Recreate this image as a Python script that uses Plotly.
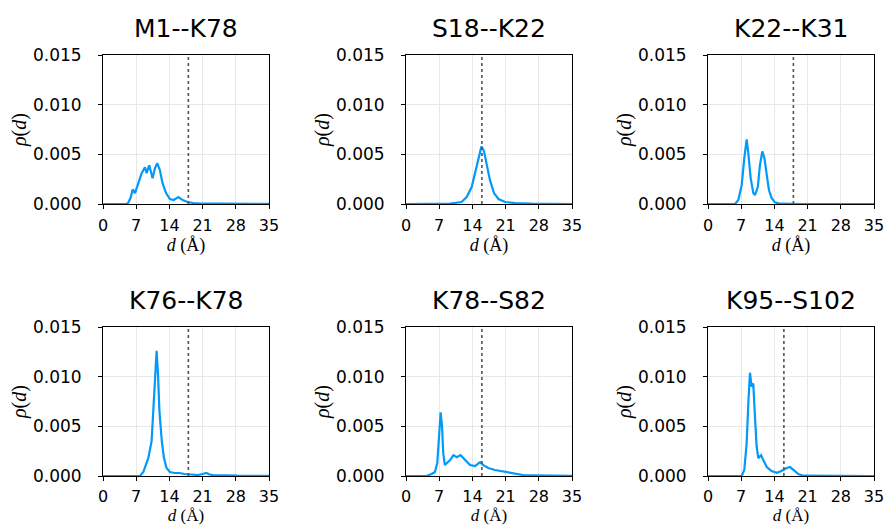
import plotly.graph_objects as go

W, H = 886, 526

titles = ["M1--K78", "S18--K22", "K22--K31", "K76--K78", "K78--S82", "K95--S102"]
cutoffs = [18, 16, 18, 18, 16, 16]

d1 = [0, 5.0, 5.3, 5.8, 6.25, 6.75, 7.45, 8.15, 8.85, 9.2, 9.75, 10.45, 10.95, 11.45, 12.0, 12.55, 13.3, 14.1, 14.9, 15.9, 16.8, 17.8, 19.0, 20.5, 25.0, 30.0, 35]
r1 = [0, 0, 0.0001, 0.0006, 0.00147, 0.0011, 0.0021, 0.0031, 0.0037, 0.0031, 0.0039, 0.0026, 0.0036, 0.0041, 0.0034, 0.0021, 0.0011, 0.0005, 0.0004, 0.0007, 0.0004, 0.0002, 0.0001, 0.00005, 0.00003, 0.00002, 0.00001]

d2 = [0, 8.0, 9.3, 11.7, 12.8, 13.85, 14.55, 15.25, 15.9, 16.45, 17.0, 17.7, 18.55, 19.5, 20.9, 23.0, 26.5, 30.0, 35]
r2 = [0, 0, 0.00005, 0.0002, 0.0007, 0.0017, 0.0031, 0.0044, 0.0058, 0.0053, 0.0041, 0.0024, 0.0011, 0.0005, 0.0002, 0.0001, 0.00003, 0.00001, 0]

d3 = [0, 5.7, 6.4, 7.1, 7.65, 8.15, 8.5, 9.0, 9.55, 9.9, 10.5, 10.95, 11.45, 11.9, 12.4, 12.85, 13.4, 14.1, 15.2, 20.0, 35]
r3 = [0, 0, 0.0004, 0.0019, 0.0046, 0.0065, 0.0051, 0.0026, 0.0011, 0.0009, 0.0017, 0.0039, 0.0053, 0.0046, 0.0029, 0.0014, 0.0006, 0.00017, 0.00003, 0, 0]

d4 = [0, 7.8, 8.5, 9.55, 10.25, 10.75, 11.1, 11.3, 11.6, 11.9, 12.4, 12.85, 13.4, 14.1, 15.1, 16.1, 17.2, 18.6, 20.0, 21.0, 21.8, 22.5, 23.2, 25.9, 28.3, 35]
r4 = [0, 0, 0.0004, 0.0018, 0.0035, 0.0075, 0.0108, 0.0126, 0.0102, 0.0065, 0.0035, 0.0018, 0.0008, 0.0004, 0.0003, 0.0003, 0.0002, 0.00013, 0.0001, 0.0002, 0.0003, 0.00015, 0.0001, 0.00007, 0.00003, 0.00001]

d5 = [0, 4.3, 5.4, 6.1, 6.6, 6.95, 7.3, 7.6, 7.85, 8.2, 8.7, 9.3, 10.0, 10.7, 11.5, 12.45, 13.5, 14.55, 15.6, 16.3, 17.35, 18.75, 20.2, 21.6, 22.9, 24.7, 26.7, 29.5, 35]
r5 = [0, 0, 0.0002, 0.0004, 0.0013, 0.0036, 0.0064, 0.0050, 0.0023, 0.0011, 0.0013, 0.0016, 0.0021, 0.0019, 0.0021, 0.0016, 0.0011, 0.0010, 0.0014, 0.0011, 0.0008, 0.0006, 0.00047, 0.00033, 0.0002, 0.0001, 0.00007, 0.00003, 0.00001]

d6 = [0, 7.1, 7.65, 8.15, 8.5, 8.85, 9.2, 9.55, 9.9, 10.25, 10.6, 11.2, 11.65, 12.4, 13.4, 14.5, 15.5, 16.6, 17.3, 18.0, 19.05, 20.1, 35]
r6 = [0, 0, 0.0006, 0.0033, 0.0073, 0.0104, 0.0090, 0.0093, 0.0060, 0.0030, 0.0018, 0.0021, 0.0016, 0.0009, 0.0005, 0.00033, 0.0005, 0.0008, 0.0009, 0.0006, 0.0002, 0.00003, 0]

xs = [d1, d2, d3, d4, d5, d6]
ys = [r1, r2, r3, r4, r5, r6]

x_ticks = [0, 7, 14, 21, 28, 35]
y_ticks = [0.0, 0.005, 0.010, 0.015]

col_px = [(103, 269), (406, 572), (708, 874)]
row_px = [(55, 204), (327, 476)]

fig = go.Figure()
layout = dict(width=W, height=H, margin=dict(l=0, r=0, t=0, b=0, autoexpand=False),
              paper_bgcolor="white", plot_bgcolor="white", showlegend=False,
              annotations=[], shapes=[])

xtickfont = dict(family="DejaVu Sans", size=16, color="black")
ytickfont = dict(family="DejaVu Sans", size=17, color="black")
xlabfonts = [dict(family="Liberation Serif", size=18, color="black"),
             dict(family="Liberation Serif", size=17, color="black")]
ylabfont = dict(family="Liberation Serif", size=20, color="black")

for i in range(6):
    r, c = divmod(i, 3)
    n = "" if i == 0 else str(i + 1)
    x0, x1 = col_px[c]
    yt, yb = row_px[r]
    xd = [x0 / W, x1 / W]
    yd = [1 - yb / H, 1 - yt / H]
    fig.add_trace(go.Scatter(x=xs[i], y=ys[i], mode="lines",
                             line=dict(color="#009AFA", width=2.2),
                             xaxis="x" + n, yaxis="y" + n))
    common = dict(showline=True, linecolor="black", linewidth=1, mirror=True,
                  ticks="outside", ticklen=4, tickcolor="black",
                  showgrid=True, gridcolor="#e8e8e8", gridwidth=1,
                  zeroline=False, layer="below traces", automargin=False)
    layout["xaxis" + n] = dict(domain=xd, anchor="y" + n, range=[0, 35],
                               tickvals=x_ticks, ticktext=[str(t) for t in x_ticks],
                               tickfont=xtickfont, ticklabelstandoff=3 if r == 0 else 2,
                               title=dict(text="<i>d</i> (Å)", font=xlabfonts[r],
                                          standoff=1 if r == 0 else 0),
                               **common)
    layout["yaxis" + n] = dict(domain=yd, anchor="x" + n, range=[0, 0.015],
                               tickvals=y_ticks, ticktext=["%.3f" % t for t in y_ticks],
                               tickfont=ytickfont, ticklabelstandoff=13,
                               title=dict(text="<i>ρ</i>(<i>d</i>)", font=ylabfont, standoff=0),
                               **common)
    layout["annotations"].append(dict(text=titles[i], x=(x0 + x1) / 2 / W,
                                      y=1 - (yt - 27) / H, xref="paper", yref="paper",
                                      showarrow=False, xanchor="center", yanchor="middle",
                                      font=dict(family="DejaVu Sans", size=25, color="black")))
    layout["shapes"].append(dict(type="line", xref="x" + n, yref="y" + n + " domain",
                                 x0=cutoffs[i], x1=cutoffs[i], y0=0, y1=1,
                                 line=dict(color="#555555", width=1.6, dash="dot")))

fig.update_layout(**layout)
fig.write_html("out.html")
